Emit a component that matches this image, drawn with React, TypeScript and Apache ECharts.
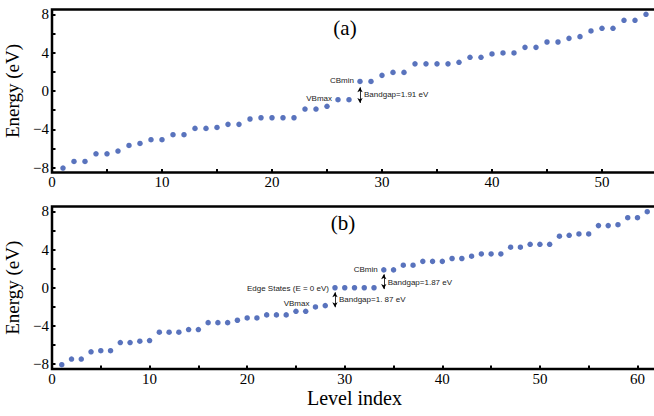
import React, { useEffect, useRef } from "react";
import * as echarts from "echarts";

// Panel (a): 54 levels
const energiesA = [
  -8.04, -7.35, -7.35, -6.55, -6.55, -6.26, -5.68, -5.47, -5.08, -5.08,
  -4.56, -4.56, -3.9, -3.9, -3.8, -3.48, -3.48, -2.92, -2.79, -2.79,
  -2.79, -2.79, -1.88, -1.88, -1.6, -0.91, -0.91, 1.0, 1.0, 1.63,
  1.94, 1.94, 2.83, 2.83, 2.83, 2.83, 2.99, 3.51, 3.51, 3.86,
  3.97, 3.97, 4.55, 4.55, 5.11, 5.11, 5.49, 5.67, 6.26, 6.54,
  6.54, 7.37, 7.37, 8.0,
];

// Panel (b): 61 levels
const energiesB = [
  -8.05, -7.46, -7.46, -6.7, -6.59, -6.59, -5.73, -5.73, -5.59, -5.52,
  -4.65, -4.65, -4.65, -4.37, -4.37, -3.65, -3.65, -3.65, -3.4, -3.16,
  -3.16, -2.84, -2.84, -2.84, -2.46, -2.46, -2.01, -1.87, 0, 0,
  0, 0, 0, 1.87, 1.87, 2.36, 2.36, 2.76, 2.76, 2.76,
  3.06, 3.06, 3.3, 3.54, 3.54, 3.54, 4.24, 4.24, 4.55, 4.55,
  4.55, 5.39, 5.49, 5.63, 5.63, 6.5, 6.5, 6.6, 7.33, 7.33,
  7.96,
];

const xLabelsA = [0, 10, 20, 30, 40, 50];
const xTicksA = [0, 5, 10, 15, 20, 25, 30, 35, 40, 45, 50, 55];
const xLabelsB = [0, 10, 20, 30, 40, 50, 60];
const xTicksB = [0, 5, 10, 15, 20, 25, 30, 35, 40, 45, 50, 55, 60];
const yLabels = [-8, -4, 0, 4, 8];
const yTicks = [-8, -6, -4, -2, 0, 2, 4, 6, 8];

// annotations: [text, level index, energy, side]
const notesA: [string, number, number, string][] = [
  ["CBmin", 28, 1.07, "left"],
  ["VBmax", 26, -0.8, "left"],
  ["Bandgap=1.91 eV", 28, -0.35, "right"],
];
const notesB: [string, number, number, string][] = [
  ["CBmin", 34, 1.93, "left"],
  ["Edge States (E = 0 eV)", 29, -0.06, "left"],
  ["VBmax", 27, -1.63, "left"],
  ["Bandgap=1. 87 eV", 29, -1.28, "right"],
  ["Bandgap=1.87 eV", 34, 0.56, "right"],
];
// bandgap arrows: [level index, from energy, to energy]
const arrowsA: [number, number, number][] = [[28, 0.38, -1.25]];
const arrowsB: [number, number, number][] = [
  [29, -0.48, -2.04],
  [34, 1.4, -0.14],
];

const SERIF = "'Liberation Serif', 'DejaVu Serif', serif";
const SANS = "'Liberation Sans', Arial, sans-serif";
const DOT = "#2f50ad";

const minusFmt = (v: number) => String(v).replace("-", "\u2212");

function makeX(gridIndex: number, max: number, labels: number[], ticks: number[], name: string) {
  return {
    type: "value",
    gridIndex,
    min: 0,
    max,
    name,
    nameLocation: "middle",
    nameGap: 19,
    nameTextStyle: { fontFamily: SERIF, fontSize: 20, color: "#000" },
    axisLine: { show: false, onZero: false },
    axisTick: { show: true, inside: true, length: 3.5, customValues: ticks, lineStyle: { color: "#000", width: 2 } },
    axisLabel: { customValues: labels, fontFamily: SERIF, fontSize: 15, color: "#000", margin: 2 },
    splitLine: { show: false },
  };
}

function makeY(gridIndex: number) {
  return {
    type: "value",
    gridIndex,
    min: -8.5,
    max: 8.5,
    name: "Energy (eV)",
    nameLocation: "middle",
    nameGap: 27,
    nameTextStyle: { fontFamily: SERIF, fontSize: 19, color: "#000" },
    axisLine: { show: false, onZero: false },
    axisTick: { show: true, inside: true, length: 3.5, customValues: yTicks, lineStyle: { color: "#000", width: 2 } },
    axisLabel: { customValues: yLabels, fontFamily: SERIF, fontSize: 15, color: "#000", margin: 3, formatter: minusFmt },
    splitLine: { show: false },
  };
}

function makeSeries(idx: number, values: number[], notes: [string, number, number, string][], arrows: [number, number, number][]) {
  return {
    type: "scatter",
    xAxisIndex: idx,
    yAxisIndex: idx,
    symbol: "circle",
    symbolSize: 5.5,
    itemStyle: { color: DOT },
    data: values.map((v, i) => [i + 1, v]),
    markLine: {
      silent: true,
      symbol: ["arrow", "arrow"],
      symbolSize: [4, 5],
      lineStyle: { color: "#000", width: 0.8, type: "solid" },
      label: { show: false },
      data: arrows.map(([x, y1, y2]) => [{ coord: [x, y1] }, { coord: [x, y2] }]),
    },
    markPoint: {
      silent: true,
      symbol: "circle",
      symbolSize: 0,
      itemStyle: { color: "transparent" },
      data: notes.map(([t, x, y, side]) => ({
        coord: [x, y],
        label: {
          show: true,
          formatter: t,
          position: side,
          distance: side === "left" ? 6 : 4,
          fontFamily: SANS,
          fontSize: 8,
          color: "#222",
        },
      })),
    },
  };
}

export default function App() {
  const ref = useRef<HTMLDivElement>(null);
  useEffect(() => {
    if (!ref.current) return;
    const chart = echarts.init(ref.current, null, { renderer: "svg" });
    chart.setOption({
      animation: false,
      backgroundColor: "#fff",
      grid: [
        { left: 52, top: 9.5, width: 605, height: 163, outerBoundsMode: "none", containLabel: false, show: true, borderColor: "#000", borderWidth: 2.5, backgroundColor: "transparent" },
        { left: 52, top: 206.5, width: 605, height: 162.5, outerBoundsMode: "none", containLabel: false, show: true, borderColor: "#000", borderWidth: 2.5, backgroundColor: "transparent" },
      ],
      xAxis: [makeX(0, 55, xLabelsA, xTicksA, ""), makeX(1, 62, xLabelsB, xTicksB, "Level index")],
      yAxis: [makeY(0), makeY(1)],
      graphic: [
        { type: "text", x: 345, y: 28, style: { text: "(a)", align: "center", verticalAlign: "middle", fontFamily: SERIF, fontSize: 21, fill: "#000" } },
        { type: "text", x: 343, y: 223, style: { text: "(b)", align: "center", verticalAlign: "middle", fontFamily: SERIF, fontSize: 21, fill: "#000" } },
      ],
      series: [makeSeries(0, energiesA, notesA, arrowsA), makeSeries(1, energiesB, notesB, arrowsB)],
    });
    return () => chart.dispose();
  }, []);
  return <div ref={ref} style={{ position: "fixed", left: 0, top: 0, width: 654, height: 416 }} />;
}
